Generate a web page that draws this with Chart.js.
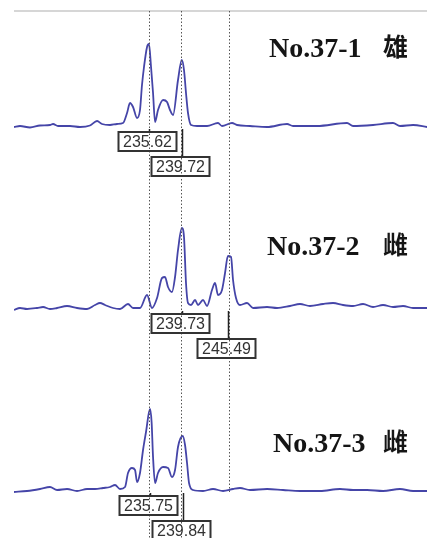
<!DOCTYPE html>
<html lang="zh">
<head>
<meta charset="UTF-8">
<title>No.37 峰图</title>
<script src="https://cdn.jsdelivr.net/npm/chart.js@4/dist/chart.umd.min.js"></script>
<style>
  body { margin: 0; background: #fff; }
  canvas { display: block; }
</style>
</head>
<body>
<canvas id="peaks" width="427" height="538"></canvas>
<script>
// samples
const sampleNames = ['No.37-1', 'No.37-2', 'No.37-3'];
const sampleSex = ['雄', '雌', '雌'];

// allele bins (bp), drawn as dotted lines
const binSizes = [235.6, 239.6, 245.6];

// called sizes for each sample (boxed labels)
const calls1 = [235.62, 239.72];
const calls2 = [239.73, 245.49];
const calls3 = [235.75, 239.84];

// trace 1 : size (bp) / signal (RFU)
const size1 = [218.75, 219.5, 220.75, 222.0, 223.25, 223.63, 224.25, 225.75, 227.0, 228.25,
  229.13, 229.75, 230.75, 231.63, 232.38, 232.88, 233.25, 233.63, 234.13, 234.5,
  234.75, 235.0, 235.38, 235.62, 235.88, 236.13, 236.38, 236.75, 237.38, 237.88,
  238.25, 238.63, 239.25, 239.72, 240.0, 240.25, 240.5, 240.88, 241.63, 242.88,
  244.25, 244.75, 246.0, 246.63, 248.25, 250.38, 252.88, 253.63, 256.63, 260.38,
  261.13, 263.63, 266.13, 267.0, 268.63, 270.38];
const rfu1 = [20, 40, 10, 50, 60, 80, 40, 40, 20, 50,
  140, 80, 60, 80, 100, 300, 500, 420, 200, 360,
  860, 1220, 1620, 1680, 1220, 700, 120, 360, 560, 520,
  360, 260, 960, 1360, 1160, 700, 300, 60, 40, 40,
  100, 40, 100, 60, 40, 20, 80, 40, 40, 100,
  40, 60, 100, 40, 60, 20];

// trace 2
const size2 = [218.75, 219.5, 220.38, 221.63, 222.38, 223.25, 224.13, 225.38, 226.63, 227.88,
  228.88, 229.5, 230.13, 231.13, 232.0, 233.0, 233.63, 234.5, 235.38, 236.0,
  236.63, 237.25, 237.63, 238.0, 238.5, 238.88, 239.25, 239.73, 240.0, 240.25,
  240.5, 240.88, 241.38, 241.75, 242.38, 242.88, 243.5, 243.88, 244.25, 244.75,
  245.13, 245.49, 245.88, 246.13, 246.5, 247.0, 247.88, 248.63, 250.38, 251.63,
  253.25, 254.5, 255.75, 257.38, 258.63, 259.88, 261.13, 262.38, 263.63, 264.88,
  266.13, 267.38, 268.63, 270.38];
const rfu2 = [0, 40, 20, 40, 60, 20, 40, 80, 40, 20,
  100, 140, 100, 40, 20, 120, 40, 40, 300, 40,
  240, 640, 660, 460, 360, 660, 1200, 1640, 1460, 540,
  140, 100, 200, 100, 200, 80, 400, 540, 300, 400,
  740, 1080, 1060, 600, 240, 100, 140, 40, 60, 40,
  80, 120, 80, 120, 140, 100, 80, 120, 60, 100,
  60, 80, 40, 40];

// trace 3
const size3 = [218.75, 220.38, 222.0, 223.25, 224.13, 225.38, 226.63, 227.88, 228.88, 229.88,
  230.75, 231.38, 232.0, 232.63, 233.0, 233.5, 233.88, 234.13, 234.5, 234.88,
  235.25, 235.75, 235.95, 236.13, 236.38, 236.75, 237.38, 238.0, 238.5, 238.88,
  239.25, 239.84, 240.13, 240.38, 240.63, 241.13, 242.38, 243.63, 244.88, 246.13,
  247.0, 248.25, 250.38, 252.38, 254.5, 257.0, 259.5, 261.13, 262.88, 264.88,
  267.0, 268.63, 270.38];
const rfu3 = [0, 20, 60, 100, 40, 60, 20, 60, 60, 80,
  100, 140, 60, 100, 380, 480, 440, 200, 380, 840,
  1200, 1660, 1400, 700, 180, 380, 500, 480, 300, 440,
  900, 1120, 940, 580, 180, 40, 20, 60, 20, 60,
  80, 40, 60, 40, 20, 20, 60, 40, 40, 20,
  60, 20, 20];

const sizes = [size1, size2, size3];
const rfus = [rfu1, rfu2, rfu3];
const calls = [calls1, calls2, calls3];

// layout: each trace gets its own hidden y axis, zero placed at its baseline
const areaTop = 11, areaH = 527;
const rfuPerPx = 20;
const zeroPx = [128, 310, 492];
const titleX = [269, 267, 273];
const titleBase = [57, 255, 452];

const yScales = {};
zeroPx.forEach((p, i) => {
  const max = (p - areaTop) * rfuPerPx;
  yScales['y' + (i + 1)] = { display: false, min: max - areaH * rfuPerPx, max: max };
});

const markPlugin = {
  id: 'marks',
  afterDatasetsDraw(chart) {
    const { ctx, chartArea: a, scales } = chart;
    const xs = scales.x;
    ctx.save();

    // frame line on top
    ctx.strokeStyle = '#c8c8c8';
    ctx.lineWidth = 1.5;
    ctx.beginPath();
    ctx.moveTo(a.left, a.top);
    ctx.lineTo(a.right, a.top);
    ctx.stroke();

    // bins
    const lastBase = scales.y3.getPixelForValue(0);
    ctx.setLineDash([1.5, 2]);
    ctx.strokeStyle = '#555';
    ctx.lineWidth = 1;
    binSizes.forEach(b => {
      const px = Math.round(xs.getPixelForValue(b)) + 0.5;
      const hit = calls3.some(c => Math.abs(c - b) < 0.5);
      ctx.beginPath();
      ctx.moveTo(px, a.top);
      ctx.lineTo(px, hit ? a.bottom : lastBase);
      ctx.stroke();
    });
    ctx.setLineDash([]);

    // call boxes
    ctx.font = '16px "Liberation Sans", Arial, sans-serif';
    ctx.textAlign = 'center';
    ctx.textBaseline = 'middle';
    calls.forEach((list, t) => {
      const base = scales['y' + (t + 1)].getPixelForValue(0);
      list.forEach((c, row) => {
        const px = Math.round(xs.getPixelForValue(c)) + 0.5;
        const top = base + 4 + row * 25;
        ctx.strokeStyle = '#222';
        ctx.lineWidth = 1.5;
        ctx.beginPath();
        ctx.moveTo(px, base + 1);
        ctx.lineTo(px, top);
        ctx.stroke();
        ctx.lineWidth = 2;
        ctx.strokeStyle = '#333';
        ctx.strokeRect(px - 31, top, 58, 19);
        ctx.fillStyle = '#333';
        ctx.fillText(c.toFixed(2), px - 2, top + 10.5);
      });
    });

    // sample titles
    ctx.textAlign = 'left';
    ctx.textBaseline = 'alphabetic';
    ctx.fillStyle = '#151515';
    sampleNames.forEach((n, i) => {
      ctx.font = 'bold 28px "Liberation Serif", "Times New Roman", serif';
      ctx.fillText(n, titleX[i], titleBase[i]);
      ctx.font = 'bold 25px "Noto Sans CJK SC", sans-serif';
      ctx.fillText(sampleSex[i], 383, titleBase[i] - 1);
    });
    ctx.restore();
  }
};

const datasets = sizes.map((s, i) => ({
  label: sampleNames[i],
  data: s.map((v, k) => ({ x: v, y: rfus[i][k] })),
  yAxisID: 'y' + (i + 1),
  borderColor: '#4545a8',
  borderWidth: 1.8,
  pointRadius: 0,
  cubicInterpolationMode: 'monotone',
  fill: false
}));

new Chart(document.getElementById('peaks').getContext('2d'), {
  type: 'line',
  data: { datasets: datasets },
  options: {
    responsive: false,
    animation: false,
    layout: { padding: { left: 14, top: 11, right: 0, bottom: 0 } },
    plugins: { legend: { display: false }, tooltip: { enabled: false } },
    scales: Object.assign({
      x: { type: 'linear', display: false, min: 218.75, max: 270.375 }
    }, yScales)
  },
  plugins: [markPlugin]
});
</script>
</body>
</html>
